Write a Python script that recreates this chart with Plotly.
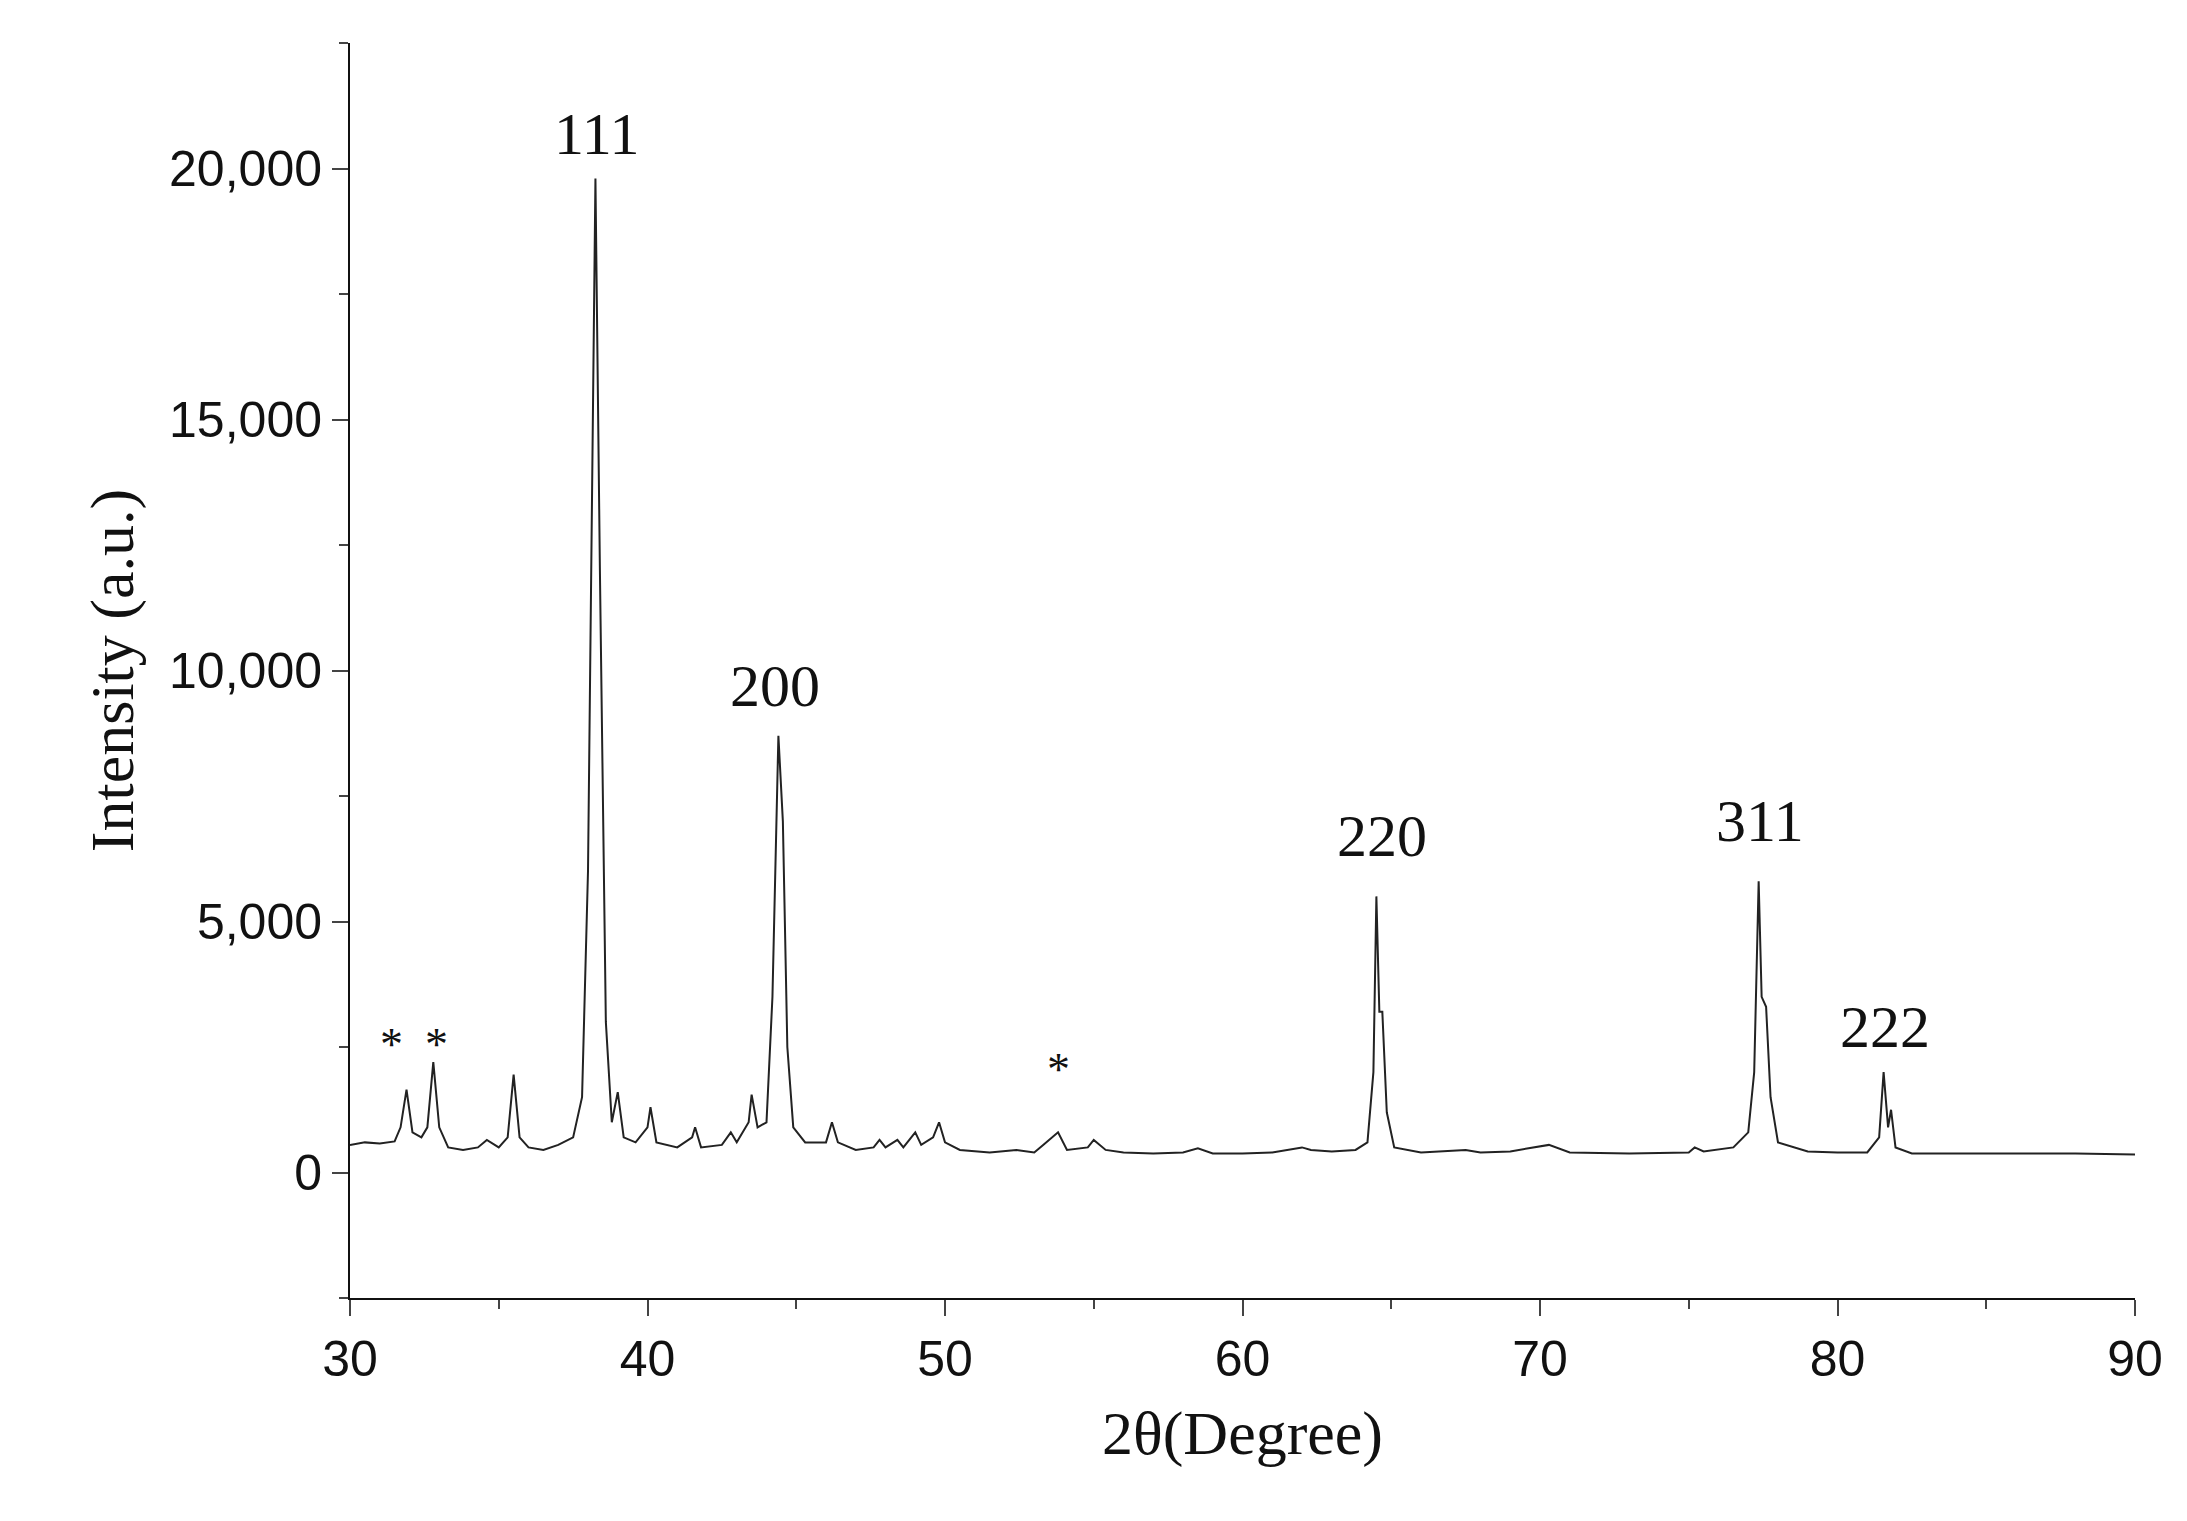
import plotly.graph_objects as go

two_theta = [30,30.5,31,31.5,31.7,31.9,32.1,32.4,32.6,32.8,33.0,33.3,33.8,34.3,34.6,35.0,35.3,35.5,35.7,36.0,36.5,37.0,37.5,37.8,38.0,38.15,38.25,38.4,38.6,38.8,39.0,39.2,39.6,40.0,40.1,40.3,41.0,41.5,41.6,41.8,42.5,42.8,43.0,43.4,43.5,43.7,44.0,44.2,44.4,44.55,44.7,44.9,45.3,46.0,46.2,46.4,47.0,47.6,47.8,48.0,48.4,48.6,49.0,49.2,49.6,49.8,50.0,50.5,51.5,52.4,53.0,53.3,53.8,54.1,54.8,55.0,55.4,56,57,58,58.5,59,60,61,62,62.3,63,63.8,64.2,64.4,64.5,64.6,64.7,64.85,65.1,66,67.5,68,69,70.3,71,73,75,75.2,75.5,76.5,77,77.2,77.35,77.45,77.6,77.75,78,79,80,81,81.4,81.55,81.7,81.8,81.95,82.5,84,86,88,90]
intensity = [550,600,580,620,900,1650,800,700,900,2200,900,500,450,500,650,500,700,1950,700,500,450,550,700,1500,6000,15000,19800,12000,3000,1000,1600,700,600,900,1300,600,500,700,900,500,550,800,600,1000,1550,900,1000,3500,8700,7000,2500,900,600,600,1000,600,450,500,650,500,650,500,800,550,700,1000,600,450,400,450,400,550,800,450,500,650,450,400,380,400,480,380,380,400,500,450,420,450,600,2000,5500,3200,3200,1200,500,400,450,400,420,550,400,380,400,500,420,500,800,2000,5800,3500,3300,1500,600,420,400,400,700,2000,900,1250,500,380,380,370,380,360]

peak_labels = ["111","200","220","311","222","*","*","*"]
label_x = [38.3,44.3,64.7,77.4,81.6,31.4,32.9,53.8]
label_y = [20000,9000,6000,6300,2200,2000,2000,1500]

fig = go.Figure(go.Scatter(x=two_theta, y=intensity, mode="lines",
                           line=dict(color="#222222", width=2)))
for t, x, y in zip(peak_labels, label_x, label_y):
    fig.add_annotation(x=x, y=y, text=t, showarrow=False, yanchor="bottom",
                       font=dict(family="Liberation Serif", size=60 if t != "*" else 46, color="#111"))

fig.update_layout(
    width=2187, height=1521, plot_bgcolor="white", paper_bgcolor="white",
    margin=dict(l=342, r=60, t=35, b=231), showlegend=False,
    font=dict(family="Liberation Sans", size=50, color="#111"),
)
fig.update_xaxes(range=[30, 90], tickvals=[30,40,50,60,70,80,90], ticks="outside", ticklen=16, tickwidth=2,
                 minor=dict(dtick=5, ticks="outside", ticklen=9, tickwidth=2),
                 showline=True, linecolor="#111", linewidth=2, showgrid=False, zeroline=False,
                 title=dict(text="2θ(Degree)", font=dict(family="Liberation Serif", size=62), standoff=25))
fig.update_yaxes(range=[-2500, 22500], tickvals=[0,5000,10000,15000,20000], tickformat=",d",
                 ticks="outside", ticklen=16, tickwidth=2,
                 minor=dict(dtick=2500, ticks="outside", ticklen=9, tickwidth=2),
                 showline=True, linecolor="#111", linewidth=2, showgrid=False, zeroline=False,
                 title=dict(text="Intensity (a.u.)", font=dict(family="Liberation Serif", size=62), standoff=15))
fig.write_html("out.html")
